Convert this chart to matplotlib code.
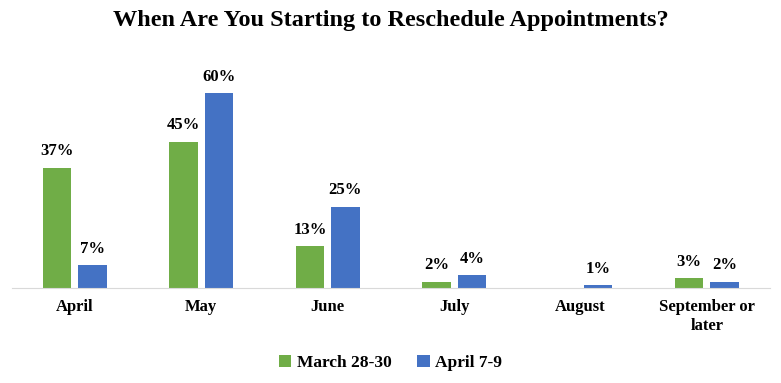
import matplotlib.pyplot as plt
import numpy as np

plt.rcParams['font.family'] = 'Liberation Serif'
plt.rcParams['font.weight'] = 'bold'

categories = ['April', 'May', 'June', 'July', 'August', 'September or\nlater']
march = [37, 45, 13, 2, 0, 3]
april = [7, 60, 25, 4, 1, 2]

fig = plt.figure(figsize=(7.81, 3.83), dpi=100)
ax = fig.add_axes([0.015, 0.248, 0.971, 0.595])

x = np.arange(len(categories))
w = 0.225
b1 = ax.bar(x - 0.14, march, w, color='#70AD47', label='March 28-30')
b2 = ax.bar(x + 0.14, april, w, color='#4472C4', label='April 7-9')

for bars, vals in [(b1, march), (b2, april)]:
    for b, v in zip(bars, vals):
        if v == 0:
            continue
        ax.text(b.get_x() + b.get_width() / 2, v + 2.5, f'{v}%', ha='center', va='bottom',
                fontsize=12, fontweight='bold')

ax.set_xlim(-0.5, len(categories) - 0.5)
ax.set_ylim(0, 70)
ax.set_yticks([])
ax.set_xticks(x)
ax.set_xticklabels(categories, fontsize=12, fontweight='bold')
ax.tick_params(axis='x', length=0, pad=8)
for s in ['top', 'right', 'left']:
    ax.spines[s].set_visible(False)
ax.spines['bottom'].set_color('#D9D9D9')

fig.suptitle('When Are You Starting to Reschedule Appointments?', y=0.975,
             fontsize=17.5, fontweight='bold')
fig.legend(loc='lower center', bbox_to_anchor=(0.5, -0.01), ncol=2, frameon=False,
           fontsize=12.5, handlelength=0.7, handleheight=0.7, handletextpad=0.3,
           columnspacing=1.5)

fig.savefig('out.png', dpi=100)
